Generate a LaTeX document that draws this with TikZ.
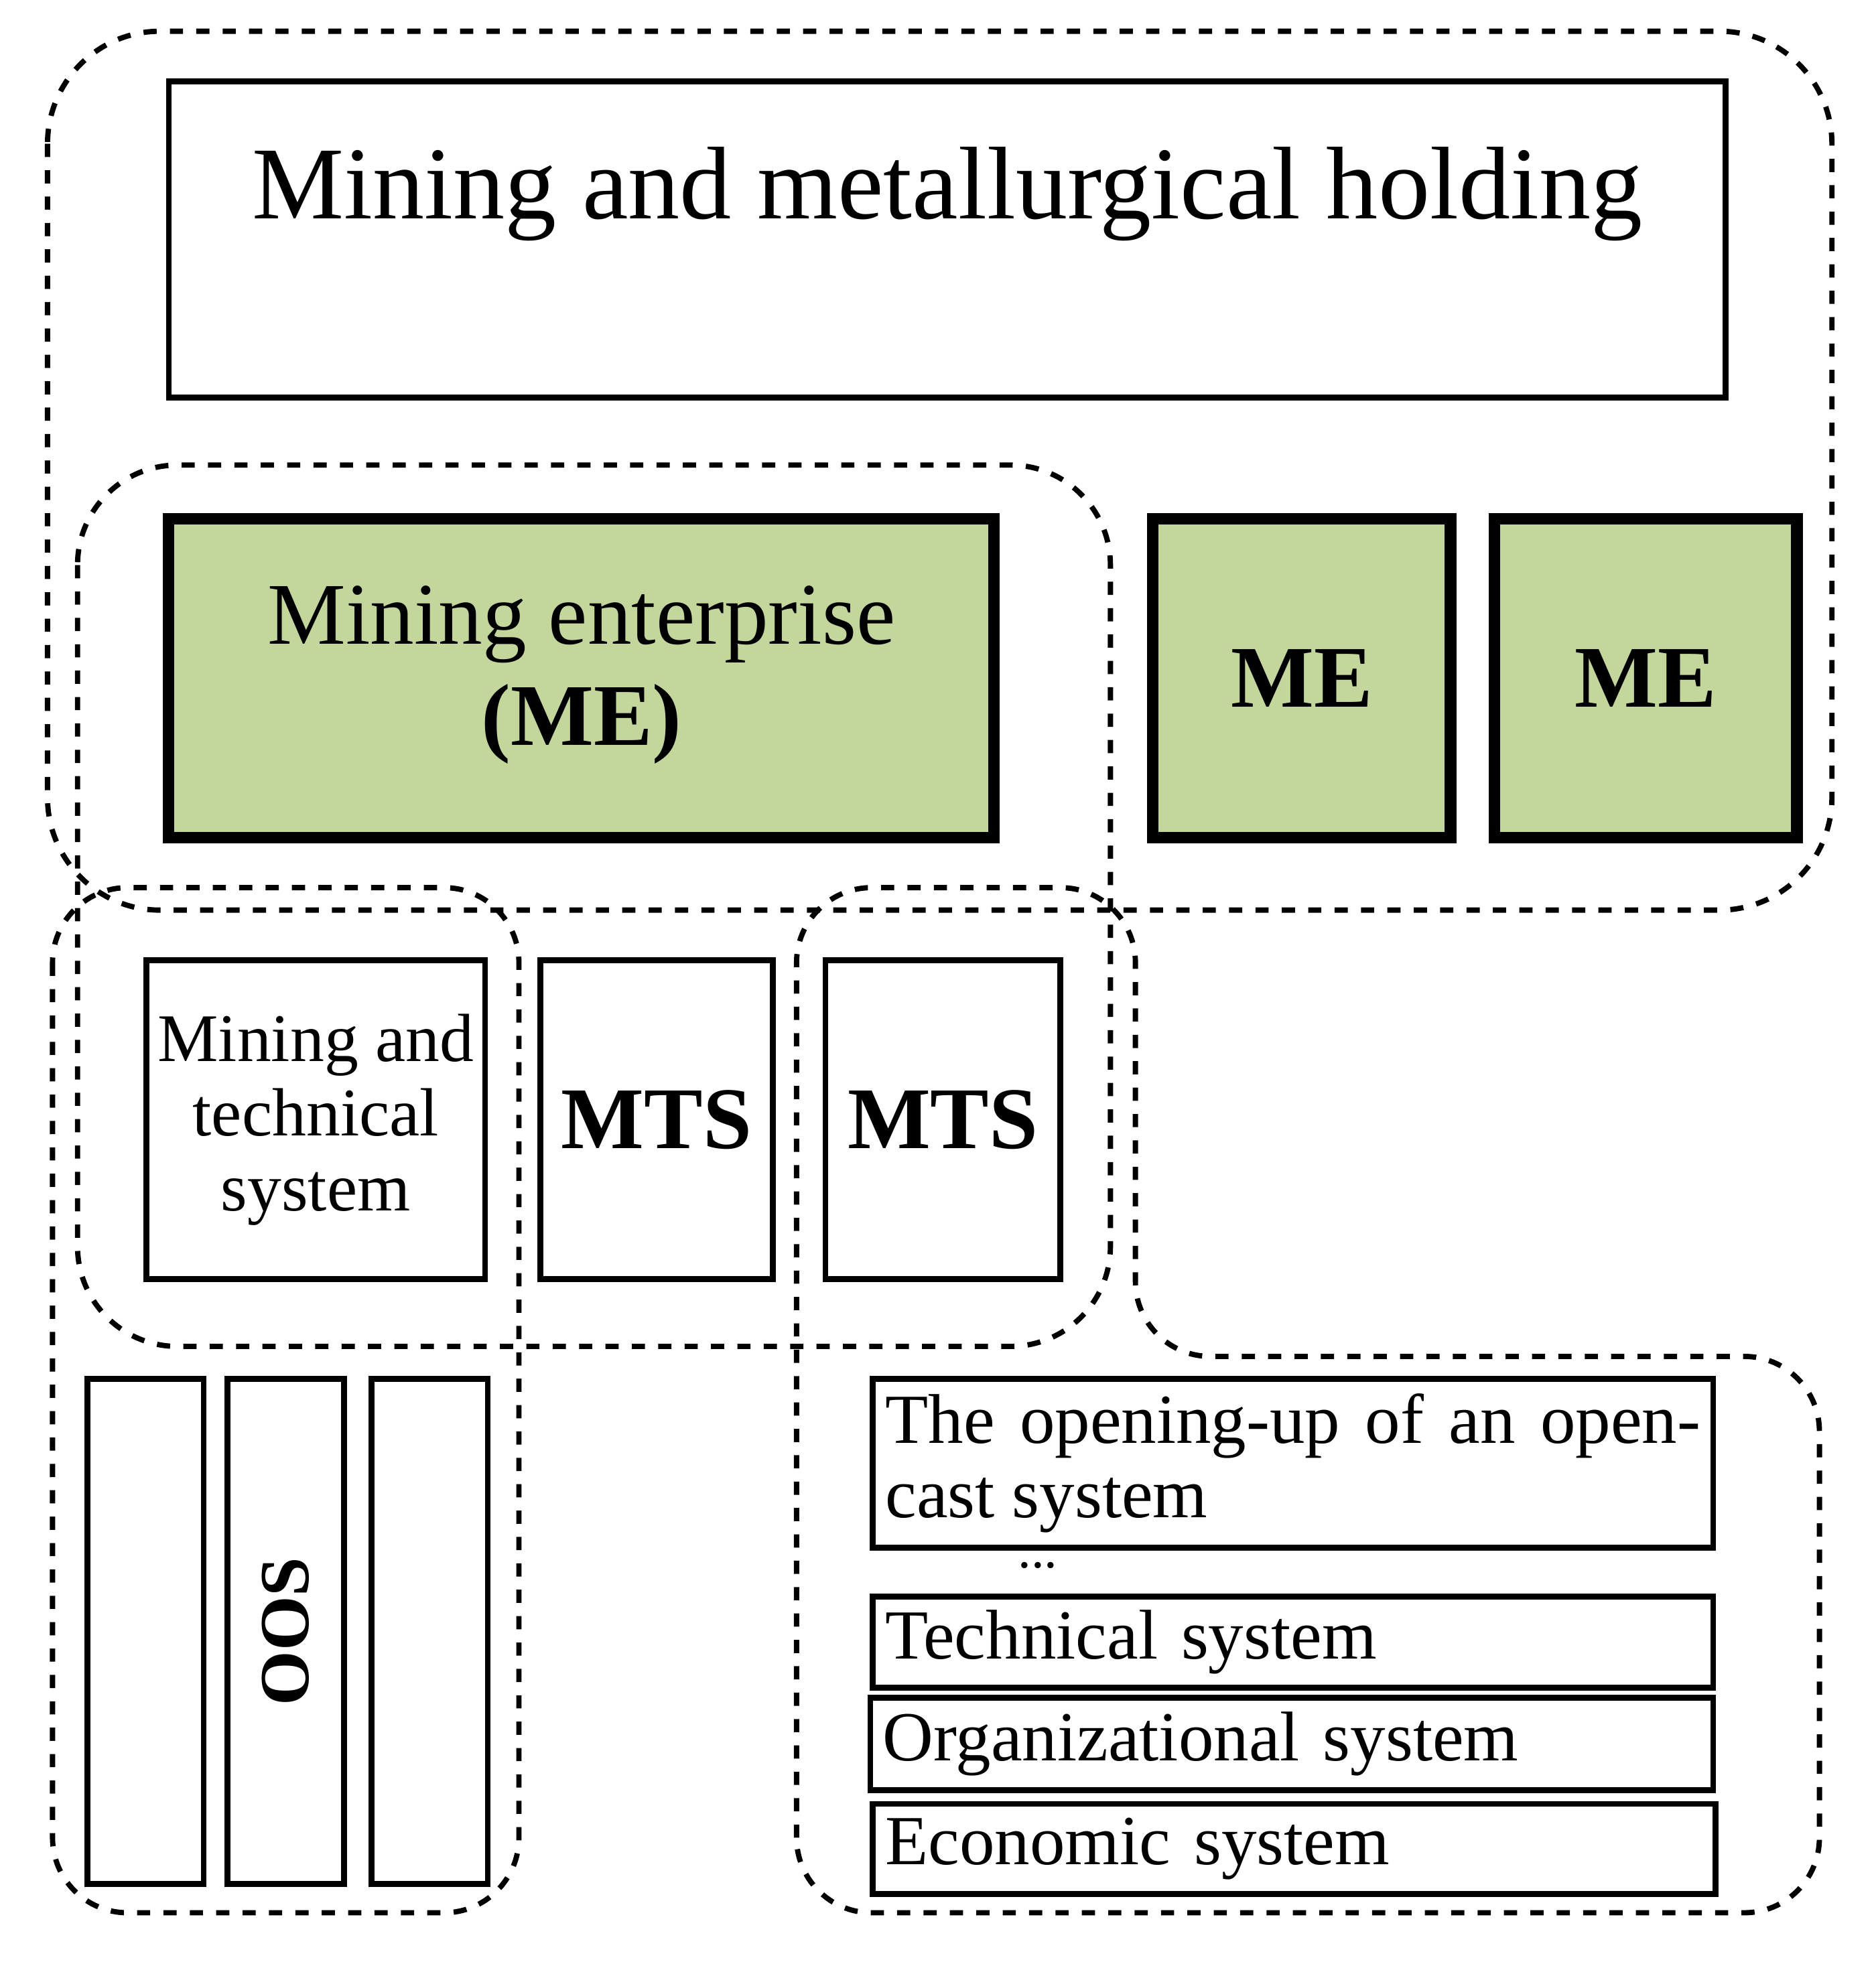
\documentclass[tikz,border=0pt]{standalone}
\usepackage{fontspec}
\setmainfont{Liberation Serif}
\definecolor{megreen}{HTML}{C3D69B}
\tikzset{
  group/.style={draw, dashed, line width=1.2pt, rounded corners=0.6cm},
  plainbox/.style={draw, line width=1.3pt},
  mebox/.style={draw, line width=2.6pt, fill=megreen},
}
\begin{document}
\begin{tikzpicture}[x=0.01cm, y=-0.01cm]
  \useasboundingbox (0,0) rectangle (1500,1571);
  % dashed groupings
  \draw[group, rounded corners=0.9cm] (38,25) rectangle (1465,728);
  \draw[group, rounded corners=0.8cm] (62,372) rectangle (888,1077);
  \draw[group] (42,710) rectangle (415,1530);
  \draw[group] (637,1530) -- (637,710) -- (908,710) -- (908,1085) -- (1455,1085) -- (1455,1530) -- cycle;
  % holding
  \node[plainbox, minimum width=1245*0.01cm, minimum height=253*0.01cm] (hold) at (757.5,191.5) {};
  \node[font=\fontsize{23.5}{28}\selectfont] (holdtext) at (757.5,155) {Mining and metallurgical holding};
  % mining enterprises
  \node[mebox, minimum width=660*0.01cm, minimum height=255*0.01cm] (me) at (465,542.5) {};
  \node[align=center, font=\fontsize{20}{23}\selectfont] (metext) at (465,540) {Mining enterprise\\\textbf{(ME)}};
  \node[mebox, minimum width=238*0.01cm, minimum height=255*0.01cm, font=\fontsize{20}{24}\selectfont\bfseries] (me2) at (1041,542.5) {ME};
  \node[mebox, minimum width=242*0.01cm, minimum height=255*0.01cm, font=\fontsize{20}{24}\selectfont\bfseries] (me3) at (1316,542.5) {ME};
  % mining and technical systems
  \node[plainbox, minimum width=271*0.01cm, minimum height=255*0.01cm, inner xsep=1pt, align=center, font=\fontsize{15.5}{17}\selectfont] (mts1) at (252.5,895.5) {Mining and\\technical\\system};
  \node[plainbox, minimum width=186*0.01cm, minimum height=255*0.01cm, font=\fontsize{20}{24}\selectfont\bfseries] (mts2) at (525,895.5) {MTS};
  \node[plainbox, minimum width=188*0.01cm, minimum height=255*0.01cm, font=\fontsize{20}{24}\selectfont\bfseries] (mts3) at (754,895.5) {MTS};
  % OOS
  \foreach \n/\x in {a/116.5, b/228.5, c/343.5}
    \node[plainbox, minimum width=93*0.01cm, minimum height=404*0.01cm] (oos\n) at (\x,1305) {};
  \node[rotate=90, font=\fontsize{16}{20}\selectfont\bfseries] (oostext) at (oosb) {OOS};
  % subsystems
  \node[plainbox, minimum width=672*0.01cm, minimum height=135*0.01cm, text width=652*0.01cm, align=justify, inner sep=10*0.01cm, font=\fontsize{16}{17}\selectfont] (open) at (1034,1170.5) {The opening-up of an open-cast system};
  \node[font=\fontsize{12}{14}\selectfont, inner sep=0pt] (dots) at (830,1252) {...};
  \node[plainbox, minimum width=672*0.01cm, minimum height=73*0.01cm, text width=652*0.01cm, inner sep=10*0.01cm, align=left, font=\fontsize{16}{18}\selectfont] (tech) at (1034,1313.5) {Technical system};
  \node[plainbox, minimum width=674*0.01cm, minimum height=74*0.01cm, text width=654*0.01cm, inner sep=10*0.01cm, align=left, font=\fontsize{16}{18}\selectfont] (org) at (1033,1395) {Organizational system};
  \node[plainbox, minimum width=674*0.01cm, minimum height=72*0.01cm, text width=654*0.01cm, inner sep=10*0.01cm, align=left, font=\fontsize{16}{18}\selectfont] (eco) at (1035,1479) {Economic system};
\end{tikzpicture}
\end{document}
